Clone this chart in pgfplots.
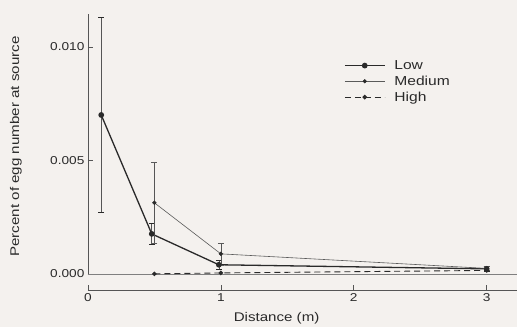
\documentclass[border=0pt]{standalone}
\usepackage{fontspec}
\setmainfont{Liberation Sans}[FakeStretch=1.2]
\usepackage{pgfplots}
\pgfplotsset{compat=1.18}
\usetikzlibrary{backgrounds}
\definecolor{bg}{HTML}{F4F1EE}
\definecolor{ink}{HTML}{2A2A2A}
\definecolor{inkm}{HTML}{5A5A5A}
\begin{document}
\begin{tikzpicture}[background rectangle/.style={fill=bg}, show background rectangle, inner frame sep=0pt]
\begin{axis}[
  scale only axis, width=429pt, height=260pt,
  xmin=0, xmax=3.226, ymin=0, ymax=0.01145,
  axis x line*=bottom, axis y line*=left,
  axis line style={-, draw=ink!80, line width=0.6pt},
  x axis line style={draw=none},
  x tick style={draw=none},
  xticklabel style={yshift=-16pt},
  scaled y ticks=false,
  xtick={0,1,2,3}, ytick={0,0.005,0.01},
  yticklabels={0.000,0.005,0.010},
  xticklabels={0,1,2,3},
  tick align=inside, major tick length=5pt,
  y tick style={draw=ink!80, line width=0.6pt},
  /pgf/number format/assume math mode=true,
  ticklabel style={font=\fontsize{11.4}{13}\selectfont, text=ink},
  xlabel={Distance (m)}, ylabel={Percent of egg number at source},
  label style={font=\fontsize{12.6}{14}\selectfont, text=ink},
  xlabel style={at={(axis description cs:0.44,-0.169)}, anchor=center},
  ylabel style={at={(axis description cs:-0.168,0.49)}, anchor=center},
  clip=false,
  legend style={at={(axis description cs:0.597,0.83)}, anchor=north west, draw=none, fill=none,
    font=\fontsize{13}{14}\selectfont, text=ink, row sep=1pt, inner sep=0pt},
  legend cell align=left,
  legend image code/.code={\draw[mark repeat=2,mark phase=2] plot coordinates {(0pt,0pt)(20pt,0pt)(40pt,0pt)}; \path (47pt,0pt);},
  error bars/error bar style={line width=0.5pt, draw=ink!80},
  error bars/error mark options={rotate=90, mark size=3pt, line width=0.5pt},
]
\path (axis description cs:0,1) ++(-88pt,14pt);
\path (axis description cs:0,0) ++(-88pt,-52pt);
\draw[ink!80, line width=0.6pt] (axis cs:0,0) ++(0pt,-16pt) -- ++(429pt,0pt);
\pgfplotsinvokeforeach{0,1,2,3}{\draw[ink!80, line width=0.6pt] (axis cs:#1,0) ++(0pt,-16pt) -- ++(0pt,5pt);}
\draw[ink!60, line width=0.5pt] (axis cs:0,0) -- (axis cs:3.226,0);
\addplot[ink, line width=1.3pt, mark=*, mark size=2.2pt, error bars/.cd, y dir=both, y explicit]
  coordinates {(0.1,0.0070) +- (0,0.0043) (0.48,0.00176) +- (0,0.00046) (0.985,0.0004) +- (0,0.0002) (3,0.00022) +- (0,0.0001)};
\addlegendentry{Low}
\addplot[inkm, line width=0.6pt, mark=*, mark size=1.8pt, mark options={fill=ink, draw=ink}, error bars/.cd, y dir=both, y explicit]
  coordinates {(0.5,0.00313) +- (0,0.0018) (1.0,0.00088) +- (0,0.00048) (3,0.00024) +- (0,0.00008)};
\addlegendentry{Medium}
\addplot[ink, line width=0.9pt, dash pattern=on 6pt off 4pt, mark=*, mark size=1.8pt, mark options={solid}]
  coordinates {(0.5,0.0) (1.0,0.00004) (3,0.00015)};
\addlegendentry{High}
\end{axis}
\end{tikzpicture}
\end{document}
